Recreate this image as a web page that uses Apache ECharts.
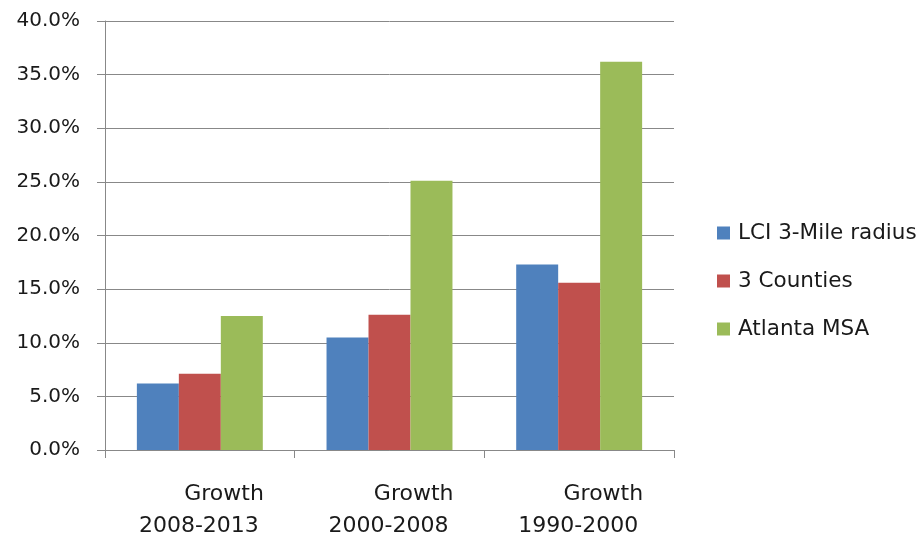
<!DOCTYPE html>
<html><head><meta charset="utf-8">
<script src="https://cdn.jsdelivr.net/npm/echarts@6/dist/echarts.min.js"></script>
<style>html,body{margin:0;padding:0;background:#fff}#c{width:922px;height:537px}</style>
</head><body><div id="c"></div>
<script>
var categories = ['Growth\n2008-2013', 'Growth\n2000-2008', 'Growth\n1990-2000'];
var seriesNames = ['LCI 3-Mile radius', '3 Counties', 'Atlanta MSA'];
var lciValues = [6.2, 10.5, 17.3];
var countiesValues = [7.1, 12.6, 15.6];
var msaValues = [12.5, 25.1, 36.2];
var colors = ['#4F81BD', '#C0504D', '#9BBB59'];
var font = '"DejaVu Sans", sans-serif';
var chart = echarts.init(document.getElementById('c'));
var data = [lciValues, countiesValues, msaValues];
chart.setOption({
  animation: false,
  grid: {left: 105, right: 248, top: 21, bottom: 87, containLabel: false, outerBoundsMode: 'none'},
  legend: {
    orient: 'vertical', left: 712, top: 217, itemWidth: 13, itemHeight: 13, itemGap: 26,
    icon: 'rect',
    textStyle: {fontFamily: font, fontSize: 21.5, color: '#1a1a1a', padding: [0,0,0,3]},
    data: seriesNames
  },
  xAxis: {
    type: 'category', data: categories,
    axisLine: {lineStyle: {color: '#888', width: 1}},
    axisTick: {show: true, length: 8, lineStyle: {color: '#888'}},
    axisLabel: {fontFamily: font, fontSize: 22, color: '#1a1a1a', margin: 28, lineHeight: 32,
      interval: 0, align: 'right', padding: [0, -64, 0, 0],
      formatter: function(v){ var p = v.split('\n'); return p[0] + '\n{b|' + p[1] + '}'; },
      rich: {b: {fontFamily: font, fontSize: 22, color: '#1a1a1a', lineHeight: 32, padding: [0, 5, 0, 0]}}
    }
  },
  yAxis: {
    type: 'value', min: 0, max: 40, interval: 5,
    axisLine: {show: true, lineStyle: {color: '#888'}},
    axisTick: {show: true, length: 8, lineStyle: {color: '#888'}},
    splitLine: {lineStyle: {color: '#888', width: 1}},
    axisLabel: {fontFamily: font, fontSize: 20, color: '#1a1a1a', margin: 25,
      formatter: function(v){ return v.toFixed(1) + '%'; }}
  },
  series: seriesNames.map(function(n, i){
    return {name: n, type: 'bar', data: data[i], barGap: '0%', barCategoryGap: '33.6%',
      itemStyle: {color: colors[i]}};
  })
});
</script></body></html>
